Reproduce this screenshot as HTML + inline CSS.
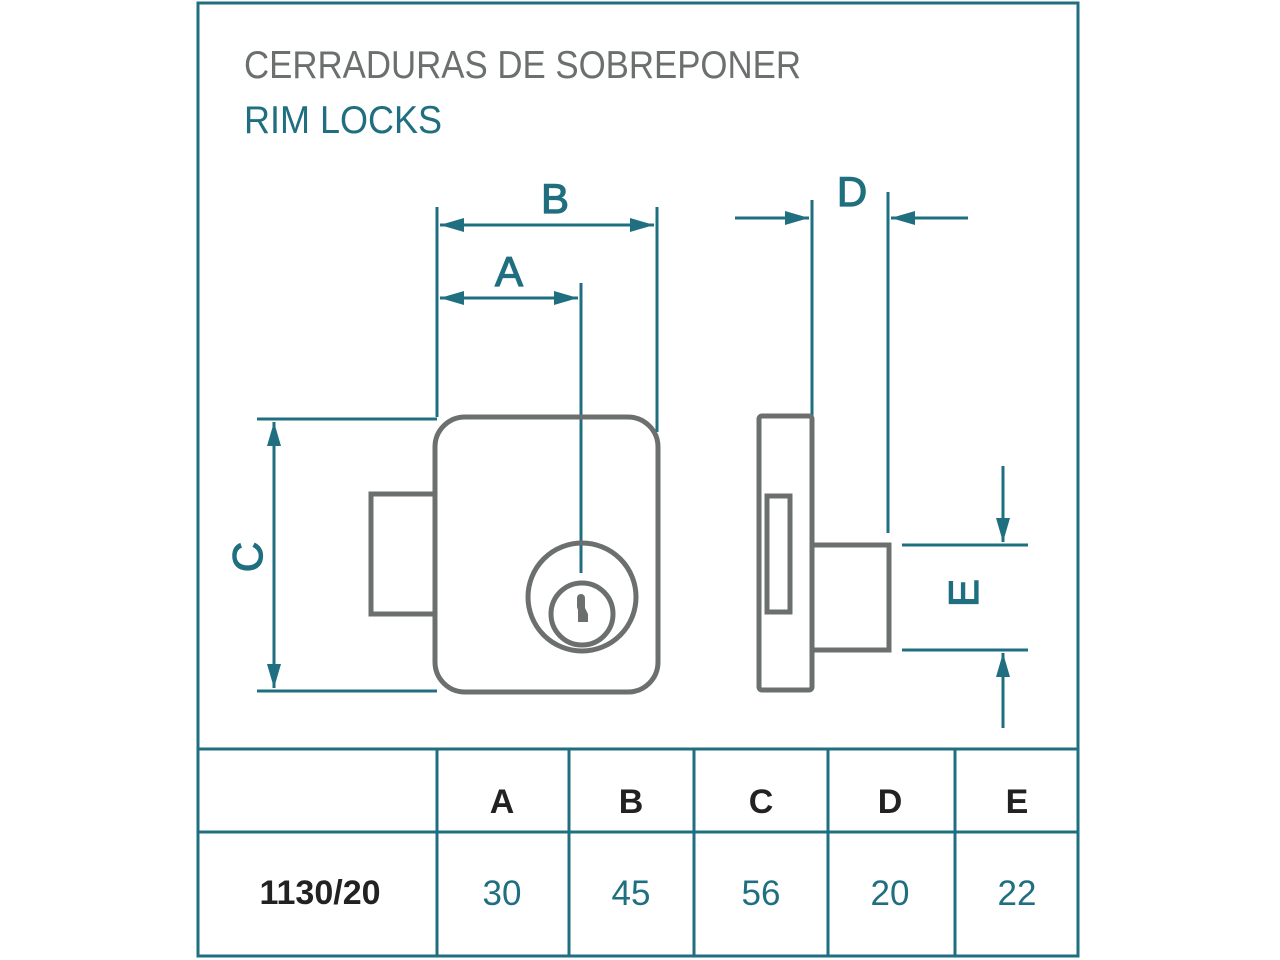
<!DOCTYPE html>
<html><head><meta charset="utf-8"><style>
html,body{margin:0;padding:0;background:#fff;width:1280px;height:960px;overflow:hidden}
</style></head><body>
<svg width="1280" height="960" viewBox="0 0 1280 960" xmlns="http://www.w3.org/2000/svg">
<defs>
<marker id="ar" viewBox="0 0 10 10" refX="10" refY="5" markerWidth="24" markerHeight="14" markerUnits="userSpaceOnUse" orient="auto" preserveAspectRatio="none"><path d="M0,0 L10,5 L0,10 z" fill="#1f6f80"/></marker>
</defs>
<g fill="none" stroke="#1f6f80" stroke-width="3">
<rect x="198" y="3" width="880" height="953"/>
<line x1="198" y1="749" x2="1078" y2="749"/>
<line x1="198" y1="832" x2="1078" y2="832"/>
<line x1="437" y1="749" x2="437" y2="956"/>
<line x1="569" y1="749" x2="569" y2="956"/>
<line x1="694" y1="749" x2="694" y2="956"/>
<line x1="828" y1="749" x2="828" y2="956"/>
<line x1="955" y1="749" x2="955" y2="956"/>
</g>
<g font-family="Liberation Sans, sans-serif">
<text x="244" y="78" font-size="39" fill="#6b706e" textLength="557" lengthAdjust="spacingAndGlyphs">CERRADURAS DE SOBREPONER</text>
<text x="244" y="133" font-size="39" fill="#1f6f80" textLength="198" lengthAdjust="spacingAndGlyphs">RIM LOCKS</text>
</g>
<g stroke="#1f6f80" stroke-width="3" fill="none">
<line x1="437" y1="207" x2="437" y2="417"/>
<line x1="657" y1="207" x2="657" y2="432"/>
<line x1="581" y1="283" x2="581" y2="573"/>
<line x1="547" y1="225" x2="440" y2="225" marker-end="url(#ar)"/>
<line x1="547" y1="225" x2="654" y2="225" marker-end="url(#ar)"/>
<line x1="509" y1="298" x2="440" y2="298" marker-end="url(#ar)"/>
<line x1="509" y1="298" x2="578" y2="298" marker-end="url(#ar)"/>
<line x1="257" y1="419" x2="437" y2="419"/>
<line x1="257" y1="691" x2="437" y2="691"/>
<line x1="274" y1="555" x2="274" y2="422" marker-end="url(#ar)"/>
<line x1="274" y1="555" x2="274" y2="688" marker-end="url(#ar)"/>
<line x1="812" y1="200" x2="812" y2="416"/>
<line x1="888" y1="192" x2="888" y2="533"/>
<line x1="735" y1="218" x2="809" y2="218" marker-end="url(#ar)"/>
<line x1="968" y1="218" x2="891" y2="218" marker-end="url(#ar)"/>
<line x1="902" y1="545" x2="1028" y2="545"/>
<line x1="902" y1="650" x2="1028" y2="650"/>
<line x1="1003" y1="466" x2="1003" y2="542" marker-end="url(#ar)"/>
<line x1="1003" y1="728" x2="1003" y2="653" marker-end="url(#ar)"/>
</g>
<g stroke="#6b706e" stroke-width="5" fill="none">
<rect x="371" y="494" width="64" height="120"/>
<rect x="435" y="417" width="223" height="275" rx="30"/>
<circle cx="582" cy="597" r="54"/>
<circle cx="582" cy="614" r="31"/>
<rect x="759" y="416" width="53" height="274" rx="3"/>
<rect x="767" y="496" width="23" height="116"/>
<rect x="812" y="545" width="77" height="105"/>
</g>
<path d="M577,598 a4,4 0 0 1 8,0 v10 l3,6 v8 h-10 v-12 l-1,-3z" fill="#6b706e"/>
<g font-family="Liberation Sans, sans-serif" fill="#1f6f80" stroke="#1f6f80" stroke-width="1.2" font-size="42" text-anchor="middle">
<text x="555" y="213">B</text>
<text x="509" y="286">A</text>
<text x="852" y="206">D</text>
<text transform="translate(262,557) rotate(-90)">C</text>
<text transform="translate(978,593) rotate(-90)">E</text>
</g>
<g font-family="Liberation Sans, sans-serif" font-size="34" text-anchor="middle" font-weight="bold" fill="#222">
<text x="502" y="813">A</text>
<text x="631" y="813">B</text>
<text x="761" y="813">C</text>
<text x="890" y="813">D</text>
<text x="1017" y="813">E</text>
<text x="320" y="904">1130/20</text>
</g>
<g font-family="Liberation Sans, sans-serif" font-size="35" text-anchor="middle" fill="#1f6f80">
<text x="502" y="905">30</text>
<text x="631" y="905">45</text>
<text x="761" y="905">56</text>
<text x="890" y="905">20</text>
<text x="1017" y="905">22</text>
</g>
</svg>
</body></html>
